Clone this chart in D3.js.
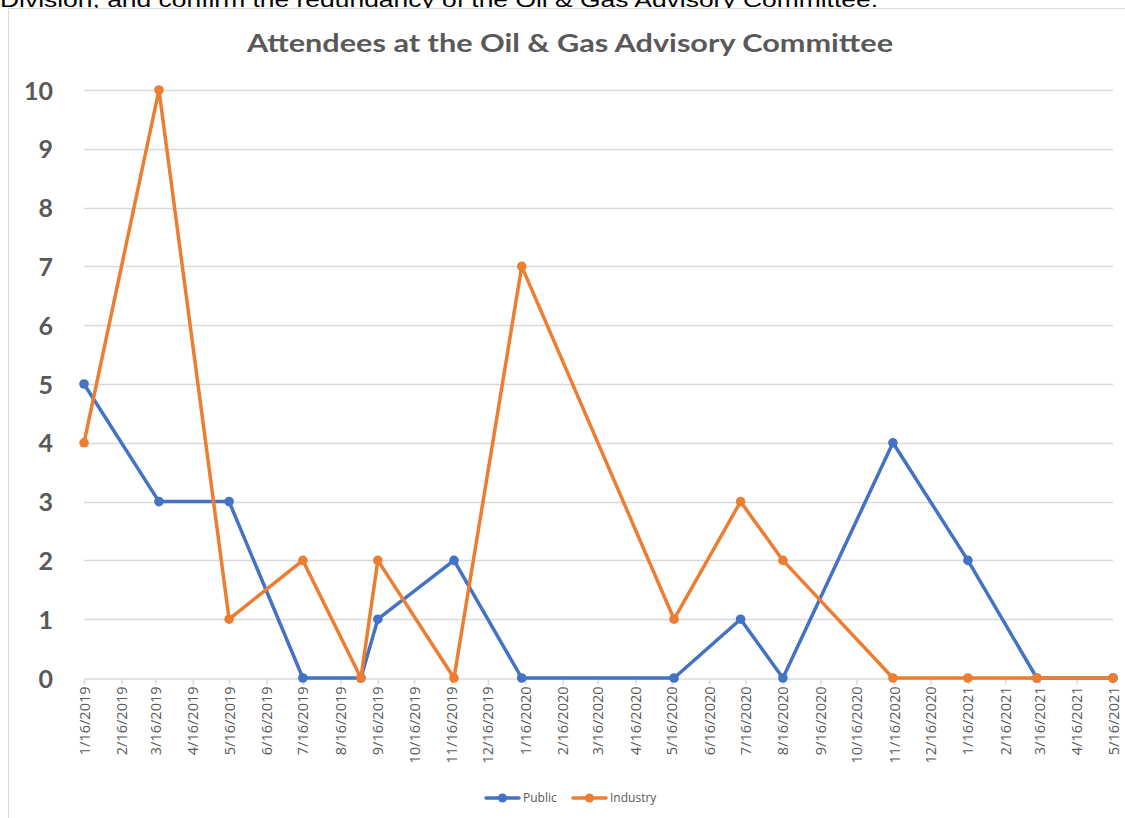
<!DOCTYPE html>
<html>
<head>
<meta charset="utf-8">
<script src="https://cdn.jsdelivr.net/npm/d3@7"></script>
<style>
  html, body { margin: 0; padding: 0; background: #fff; }
  svg { display: block; }
</style>
</head>
<body>
<svg id="chart" width="1125" height="818"></svg>
<script>
// Meeting dates and attendance counts
const meetingDates = [
  "2019-01-16", "2019-03-19", "2019-05-16", "2019-07-16", "2019-09-02",
  "2019-09-16", "2019-11-18", "2020-01-13", "2020-05-18", "2020-07-12",
  "2020-08-16", "2020-11-15", "2021-01-16", "2021-03-14", "2021-05-16"
];
const publicCounts   = [5, 3, 3, 0, 0, 1, 2, 0, 0, 1, 0, 4, 2, 0, 0];
const industryCounts = [4, 10, 1, 2, 0, 2, 0, 7, 1, 3, 2, 0, 0, 0, 0];
const seriesNames = ["Public", "Industry"];
const yTicks = [0, 1, 2, 3, 4, 5, 6, 7, 8, 9, 10];
const axisStart = "2019-01-16";
const axisEnd = "2021-05-16";

const parse = d3.timeParse("%Y-%m-%d");
const colors = { Public: "#4472C4", Industry: "#ED7D31" };
const grey = "#595959";
const gridGrey = "#D9D9D9";

const svg = d3.select("#chart");

// Surrounding document text, clipped by the top edge
svg.append("text")
  .attr("x", 0).attr("y", 7)
  .attr("font-family", "Liberation Sans, Arial, sans-serif")
  .attr("font-size", 21)
  .attr("fill", "#000")
  .attr("textLength", 878)
  .attr("lengthAdjust", "spacingAndGlyphs")
  .text("Division, and confirm the redundancy of the Oil & Gas Advisory Committee.");

// Chart frame
svg.append("rect")
  .attr("x", 8.5).attr("y", 8.5)
  .attr("width", 1130).attr("height", 830)
  .attr("fill", "#fff")
  .attr("stroke", gridGrey).attr("stroke-width", 1);

// Title
svg.append("text")
  .attr("x", 570).attr("y", 52)
  .attr("text-anchor", "middle")
  .attr("font-family", "Lato, Open Sans, sans-serif")
  .attr("font-weight", "bold")
  .attr("font-size", 25)
  .attr("fill", grey)
  .attr("textLength", 646)
  .attr("lengthAdjust", "spacingAndGlyphs")
  .text("Attendees at the Oil & Gas Advisory Committee");

const x = d3.scaleTime()
  .domain([parse(axisStart), parse(axisEnd)])
  .range([84, 1113]);
const y = d3.scaleLinear().domain([0, 10]).range([678, 90]);

// Horizontal gridlines
svg.append("g")
  .selectAll("line")
  .data(yTicks.filter(d => d > 0))
  .join("line")
  .attr("x1", 84).attr("x2", 1113)
  .attr("y1", d => Math.round(y(d)) + 0.5)
  .attr("y2", d => Math.round(y(d)) + 0.5)
  .attr("stroke", gridGrey).attr("stroke-width", 1.3);

// Y-axis labels
const yAxis = d3.axisLeft(y).tickValues(yTicks).tickSize(0).tickPadding(0);
const yG = svg.append("g").attr("transform", "translate(53,0)").call(yAxis);
yG.select(".domain").remove();
yG.selectAll("text")
  .attr("font-family", "Lato, Open Sans, sans-serif")
  .attr("font-weight", "bold")
  .attr("font-size", 25)
  .attr("fill", grey)
  .attr("dy", "0.36em");

// X axis: monthly ticks on the 16th, from the first to the last meeting month
const start = parse(axisStart), end = parse(axisEnd);
const monthTicks = [];
for (let d = start; d <= end; d = d3.timeMonth.offset(d, 1)) monthTicks.push(d);
const fmt = d => `${d.getMonth() + 1}/${d.getDate()}/${d.getFullYear()}`;
const xAxis = d3.axisBottom(x).tickValues(monthTicks).tickFormat(fmt).tickSize(6).tickPadding(4).tickSizeOuter(0);
const xG = svg.append("g").attr("transform", "translate(0,678.5)").call(xAxis);
xG.select(".domain").attr("stroke", gridGrey).attr("stroke-width", 1.5);
xG.selectAll(".tick line").attr("stroke", gridGrey).attr("stroke-width", 1.5);
xG.selectAll("text")
  .attr("font-family", "Open Sans, sans-serif")
  .attr("font-size", 14.5)
  .attr("fill", grey)
  .attr("text-anchor", "end")
  .attr("transform", "rotate(-90)")
  .attr("x", -8)
  .attr("y", 0)
  .attr("dy", "0.35em");

// Series lines and markers
const series = [
  { name: "Public", values: publicCounts },
  { name: "Industry", values: industryCounts }
];
const line = d3.line().x(d => x(d.date)).y(d => y(d.v));
series.forEach(s => {
  const pts = meetingDates.map((d, i) => ({ date: parse(d), v: s.values[i] }));
  const g = svg.append("g");
  g.append("path")
    .datum(pts)
    .attr("d", line)
    .attr("fill", "none")
    .attr("stroke", colors[s.name])
    .attr("stroke-width", 3.5)
    .attr("stroke-linejoin", "round");
  g.selectAll("circle")
    .data(pts)
    .join("circle")
    .attr("cx", d => x(d.date))
    .attr("cy", d => y(d.v))
    .attr("r", 4.8)
    .attr("fill", colors[s.name]);
});

// Legend
const legendItems = [
  { name: seriesNames[0], x0: 486 },
  { name: seriesNames[1], x0: 573 }
];
const lg = svg.append("g");
legendItems.forEach(it => {
  lg.append("line")
    .attr("x1", it.x0).attr("x2", it.x0 + 33)
    .attr("y1", 798).attr("y2", 798)
    .attr("stroke", colors[it.name]).attr("stroke-width", 3.5)
    .attr("stroke-linecap", "round");
  lg.append("circle")
    .attr("cx", it.x0 + 16.5).attr("cy", 798).attr("r", 4.5)
    .attr("fill", colors[it.name]);
  lg.append("text")
    .attr("x", it.x0 + 37).attr("y", 798)
    .attr("dy", "0.35em")
    .attr("font-family", "Open Sans, sans-serif")
    .attr("font-size", 12)
    .attr("fill", grey)
    .text(it.name);
});
</script>
</body>
</html>
